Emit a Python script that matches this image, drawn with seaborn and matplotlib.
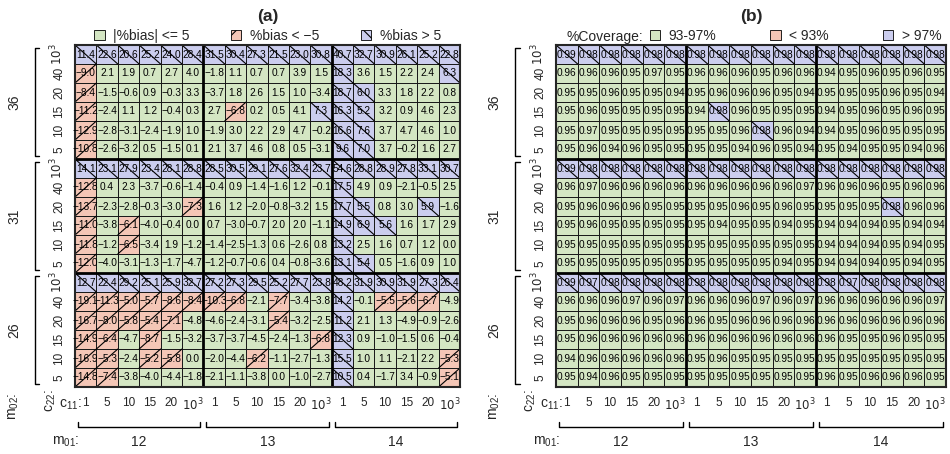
import numpy as np
import matplotlib
matplotlib.use("Agg")
import matplotlib.pyplot as plt
import seaborn as sns
from matplotlib.colors import ListedColormap
from matplotlib.patches import Patch
from matplotlib.lines import Line2D

sns.set_style("white")
plt.rcParams['font.family'] = ['Liberation Sans', 'DejaVu Sans']

m01 = ['12', '13', '14']
m02 = ['36', '31', '26']
c11 = ['1', '5', '10', '15', '20', '$10^3$']
c22 = ['$10^3$', '40', '20', '15', '10', '5']   # top to bottom in each block

# %bias, rows: m02 block (36,31,26) x c22 (10^3,40,20,15,10,5); cols: m01 (12,13,14) x c11
bias = [
    [11.4, 22.6, 20.6, 25.2, 24.0, 28.4, 31.5, 30.4, 27.3, 21.5, 23.0, 30.8, 40.7, 32.7, 30.9, 26.1, 25.2, 22.8],
    [-9.0, 2.1, 1.9, 0.7, 2.7, 4.0, -1.8, 1.1, 0.7, 0.7, 3.9, 1.5, 18.3, 3.6, 1.5, 2.2, 2.4, 6.3],
    [-8.4, -1.5, -0.6, 0.9, -0.3, 3.3, -3.7, 1.8, 2.6, 1.5, 1.0, -3.4, 18.7, 6.0, 3.3, 1.8, 2.2, 0.8],
    [-11.2, -2.4, 1.1, 1.2, -0.4, 0.3, 2.7, -6.8, 0.2, 0.5, 4.1, 7.3, 16.3, 5.2, 3.2, 0.9, 4.6, 2.3],
    [-12.9, -2.8, -3.1, -2.4, -1.9, 1.0, -1.9, 3.0, 2.2, 2.9, 4.7, -0.2, 16.6, 7.6, 3.7, 4.7, 4.6, 1.0],
    [-10.8, -2.6, -3.2, 0.5, -1.5, 0.1, 2.1, 3.7, 4.6, 0.8, 0.5, -3.1, 9.6, 7.0, 3.7, -0.2, 1.6, 2.7],
    [14.1, 23.1, 27.9, 23.4, 28.1, 28.8, 28.5, 30.5, 29.1, 27.6, 32.4, 23.7, 54.6, 28.8, 28.9, 27.8, 33.1, 30.7],
    [-12.8, 0.4, 2.3, -3.7, -0.6, -1.4, -0.4, 0.9, -1.4, -1.6, 1.2, -0.1, 17.5, 4.9, 0.9, -2.1, -0.5, 2.5],
    [-13.7, -2.3, -2.8, -0.3, -3.0, -7.3, 1.6, 1.2, -2.0, -0.8, -3.2, 1.5, 17.7, 5.5, 0.8, 3.0, 5.9, -1.6],
    [-11.0, -3.8, -6.1, -4.0, -0.4, 0.0, 0.7, -3.0, -0.7, 2.0, 2.0, -1.1, 14.9, 6.9, 5.6, 1.6, 1.7, 2.9],
    [-11.8, -1.2, -6.5, -3.4, 1.9, -1.2, -1.4, -2.5, -1.3, 0.6, -2.6, 0.8, 13.2, 2.5, 1.6, 0.7, 1.2, 0.0],
    [-12.0, -4.0, -3.1, -1.3, -1.7, -4.7, -1.2, -0.7, -0.6, 0.4, -0.8, -3.6, 13.1, 5.4, 0.5, -1.6, 0.9, 1.0],
    [12.7, 22.4, 29.2, 25.1, 25.9, 32.7, 27.2, 27.3, 29.5, 25.2, 27.7, 23.8, 48.2, 31.9, 30.9, 31.9, 27.3, 26.4],
    [-19.1, -11.3, -5.04, -5.7, -8.6, -8.4, -10.3, -6.8, -2.1, -7.7, -3.4, -3.8, 14.2, -0.1, -5.5, -5.6, -6.7, -4.9],
    [-16.7, -8.0, -5.8, -5.4, -7.1, -4.8, -4.6, -2.4, -3.1, -5.4, -3.2, -2.5, 11.2, 2.1, 1.3, -4.9, -0.9, -2.6],
    [-14.9, -6.4, -4.7, -8.7, -1.5, -3.2, -3.7, -3.7, -4.5, -2.4, -1.3, -6.8, 12.3, 0.9, -1.0, -1.5, 0.6, -0.4],
    [-16.9, -5.3, -2.4, -5.2, -5.8, 0.0, -2.0, -4.4, -6.2, -1.1, -2.7, -1.3, 15.5, 1.0, 1.1, -2.1, 2.2, -5.3],
    [-14.8, -7.4, -3.8, -4.0, -4.4, -1.8, -2.1, -1.1, -3.8, 0.0, -1.0, -2.7, 10.5, 0.4, -1.7, 3.4, -0.9, -5.1],
]

# coverage, same layout
coverage = [
    [0.99, 0.98, 0.98, 0.98, 0.98, 0.98, 0.98, 0.98, 0.98, 0.98, 0.98, 0.98, 0.98, 0.98, 0.98, 0.98, 0.98, 0.98],
    [0.96, 0.96, 0.96, 0.95, 0.97, 0.95, 0.96, 0.96, 0.96, 0.95, 0.96, 0.96, 0.94, 0.95, 0.96, 0.95, 0.96, 0.95],
    [0.95, 0.95, 0.96, 0.95, 0.95, 0.94, 0.95, 0.96, 0.96, 0.96, 0.95, 0.94, 0.95, 0.95, 0.95, 0.96, 0.95, 0.94],
    [0.95, 0.96, 0.95, 0.95, 0.95, 0.95, 0.94, 0.98, 0.96, 0.95, 0.95, 0.95, 0.94, 0.95, 0.96, 0.95, 0.96, 0.95],
    [0.95, 0.97, 0.95, 0.95, 0.95, 0.95, 0.95, 0.95, 0.96, 0.98, 0.96, 0.94, 0.94, 0.95, 0.96, 0.95, 0.95, 0.95],
    [0.95, 0.96, 0.94, 0.96, 0.95, 0.95, 0.95, 0.95, 0.94, 0.96, 0.95, 0.94, 0.95, 0.94, 0.95, 0.95, 0.94, 0.96],
    [0.99, 0.98, 0.98, 0.98, 0.98, 0.98, 0.98, 0.98, 0.98, 0.98, 0.98, 0.98, 0.98, 0.98, 0.98, 0.98, 0.98, 0.98],
    [0.96, 0.97, 0.96, 0.96, 0.96, 0.96, 0.96, 0.96, 0.96, 0.96, 0.96, 0.97, 0.96, 0.96, 0.96, 0.95, 0.96, 0.96],
    [0.95, 0.96, 0.96, 0.96, 0.95, 0.95, 0.95, 0.95, 0.96, 0.95, 0.96, 0.95, 0.95, 0.95, 0.95, 0.98, 0.96, 0.96],
    [0.95, 0.96, 0.95, 0.95, 0.95, 0.95, 0.95, 0.94, 0.95, 0.95, 0.94, 0.95, 0.94, 0.94, 0.94, 0.95, 0.94, 0.94],
    [0.95, 0.95, 0.95, 0.95, 0.95, 0.95, 0.95, 0.95, 0.95, 0.95, 0.95, 0.95, 0.94, 0.94, 0.94, 0.95, 0.94, 0.95],
    [0.95, 0.95, 0.95, 0.95, 0.95, 0.95, 0.95, 0.95, 0.95, 0.95, 0.94, 0.95, 0.94, 0.94, 0.94, 0.95, 0.94, 0.95],
    [0.99, 0.974, 0.98, 0.98, 0.98, 0.98, 0.98, 0.98, 0.98, 0.98, 0.98, 0.98, 0.98, 0.974, 0.98, 0.98, 0.98, 0.98],
    [0.96, 0.96, 0.96, 0.97, 0.96, 0.97, 0.96, 0.96, 0.96, 0.97, 0.96, 0.97, 0.96, 0.96, 0.96, 0.96, 0.96, 0.97],
    [0.95, 0.96, 0.96, 0.96, 0.95, 0.96, 0.96, 0.95, 0.96, 0.96, 0.96, 0.96, 0.96, 0.96, 0.96, 0.96, 0.96, 0.96],
    [0.95, 0.96, 0.96, 0.96, 0.96, 0.96, 0.96, 0.96, 0.96, 0.96, 0.96, 0.96, 0.96, 0.95, 0.95, 0.96, 0.95, 0.95],
    [0.94, 0.96, 0.96, 0.96, 0.96, 0.96, 0.95, 0.96, 0.95, 0.95, 0.95, 0.95, 0.95, 0.95, 0.95, 0.95, 0.95, 0.95],
    [0.95, 0.94, 0.96, 0.95, 0.95, 0.95, 0.95, 0.95, 0.95, 0.95, 0.95, 0.95, 0.96, 0.95, 0.96, 0.96, 0.96, 0.95],
]

GREEN = '#d4e6c3'
RED = '#f4c6b6'
BLUE = '#cbcdee'
cmap = ListedColormap([GREEN, RED, BLUE])

W, H = 950, 454
fig = plt.figure(figsize=(W / 100, H / 100), dpi=100)


def px_axes(x0, y0, x1, y1):
    return fig.add_axes([x0 / W, 1 - y1 / H, (x1 - x0) / W, (y1 - y0) / H])


def draw_panel(ax, vals, lo, hi, fmt, title, leg_labels, leg_title=None,
               colspace=3.0, leg_x=None):
    v = np.array(vals, dtype=float)
    cat = np.where(v < lo, 1, np.where(v > hi, 2, 0))
    labels = np.vectorize(lambda x: format(x, fmt).replace('-', '\u2212'))(v)
    sns.heatmap(cat, cmap=cmap, vmin=-0.5, vmax=2.5, annot=labels, fmt='',
                cbar=False, linewidths=0.7, linecolor='#1a1a1a', ax=ax,
                annot_kws=dict(fontsize=7.3, color='black'))
    n = v.shape[0]
    for i in range(n):
        for j in range(v.shape[1]):
            if cat[i, j] == 1:
                ax.plot([j, j + 1], [i + 1, i], color='black', lw=0.8)
            elif cat[i, j] == 2:
                ax.plot([j, j + 1], [i, i + 1], color='black', lw=0.8)
    for k in (6, 12):
        ax.axvline(k, color='black', lw=2)
        ax.axhline(k, color='black', lw=2)
    for s in ax.spines.values():
        s.set_visible(True)
        s.set_linewidth(1.5)
    ax.set_xticks(np.arange(18) + 0.5)
    ax.set_xticklabels(c11 * 3, rotation=0, fontsize=8.5)
    ax.set_yticks(np.arange(18) + 0.5)
    ax.set_yticklabels(c22 * 3, rotation=90, fontsize=8.5, va='center')
    ax.tick_params(length=0, pad=7)
    ax.set_xlabel('')
    ax.set_ylabel('')

    tr = ax.transAxes
    # x group brackets
    yb = -0.118
    for g in range(3):
        x0, x1 = g / 3 + 0.008, (g + 1) / 3 - 0.008
        ax.add_line(Line2D([x0, x0, x1, x1], [yb + 0.015, yb, yb, yb + 0.015],
                           transform=tr, color='black', lw=1, clip_on=False))
        ax.text((g + 0.5) / 3, -0.16, m01[g], transform=tr, ha='center',
                va='center', fontsize=10)
    ax.text(0.012, -0.16, '$\\mathregular{m_{01}}$:', transform=tr,
            ha='right', va='center', fontsize=10)
    ax.text(0.018, -0.052, '$\\mathregular{c_{11}}$:', transform=tr,
            ha='right', va='center', fontsize=10)
    # y group brackets (m02 top to bottom)
    xb = -0.105
    for g in range(3):
        y1, y0 = 1 - g / 3 - 0.008, 1 - (g + 1) / 3 + 0.008
        ax.add_line(Line2D([xb + 0.012, xb, xb, xb + 0.012], [y1, y1, y0, y0],
                           transform=tr, color='black', lw=1, clip_on=False))
        ax.text(-0.158, 1 - (g + 0.5) / 3, m02[g], transform=tr, ha='center',
                va='center', fontsize=10, rotation=90)
    ax.text(-0.158, -0.015, '$\\mathregular{m_{02}}$:', transform=tr,
            ha='center', va='top', fontsize=10, rotation=90)
    ax.text(-0.064, -0.005, '$\\mathregular{c_{22}}$:', transform=tr,
            ha='center', va='top', fontsize=10, rotation=90)

    ax.set_title(title, fontsize=12.5, fontweight='bold', pad=17)
    handles = [Patch(facecolor=GREEN, edgecolor='black', lw=0.6),
               Patch(facecolor=RED, edgecolor='black', lw=0.6, hatch='/'),
               Patch(facecolor=BLUE, edgecolor='black', lw=0.6, hatch='\\')]
    if leg_x is None:
        anchor, loc = (0.5, 1.0), 'lower center'
    else:
        anchor, loc = (leg_x, 1.0), 'lower left'
    ax.legend(handles, leg_labels, ncol=3, loc=loc,
              bbox_to_anchor=anchor, frameon=False, fontsize=10,
              handlelength=0.75, handleheight=0.75, columnspacing=colspace,
              handletextpad=0.6, borderaxespad=0.0, borderpad=0.15)
    if leg_title:
        ax.text(0.028, 1.024, leg_title, transform=tr, ha='left',
                va='center', fontsize=10)


plt.rcParams['hatch.linewidth'] = 0.8
axA = px_axes(75, 45, 460, 387)
draw_panel(axA, bias, -5, 5, '.1f', '(a)',
           ['|%bias| <= 5', '%bias < \u22125', '%bias > 5'], colspace=3.0)
axB = px_axes(556, 45, 946, 387)
draw_panel(axB, coverage, 0.93, 0.97, '.2f', '(b)',
           ['93-97%', '< 93%', '> 97%'], leg_title='%Coverage:',
           colspace=3.9, leg_x=0.235)

fig.savefig('out.png', dpi=100)
